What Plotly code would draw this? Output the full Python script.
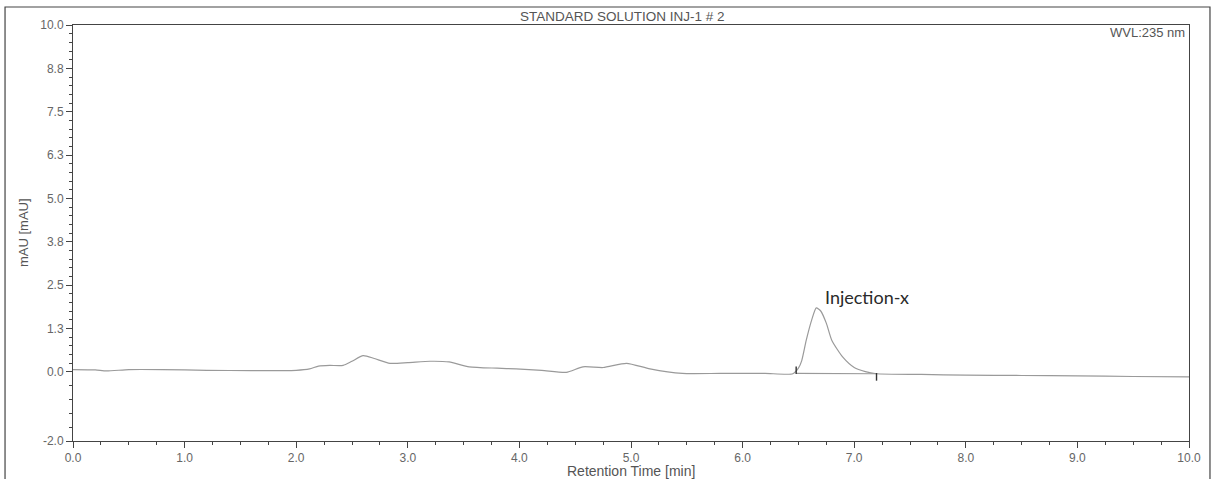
import plotly.graph_objects as go

# --- data ---
time_min = [0.0, 0.2, 0.3, 0.5, 0.8, 1.2, 1.6, 2.0, 2.12, 2.2, 2.3, 2.42, 2.5, 2.6, 2.7,
            2.84, 3.0, 3.2, 3.37, 3.55, 3.8, 3.97, 4.2, 4.42, 4.57, 4.75, 4.96, 5.17,
            5.46, 5.8, 6.2, 6.45, 6.5, 6.53, 6.57, 6.62, 6.66, 6.7, 6.75, 6.8, 6.9,
            7.0, 7.1, 7.2, 7.6, 8.0, 8.5, 9.0, 9.5, 10.0]
signal_mau = [0.06, 0.05, 0.02, 0.06, 0.06, 0.04, 0.03, 0.04, 0.08, 0.16, 0.18, 0.18,
              0.30, 0.46, 0.38, 0.24, 0.26, 0.30, 0.28, 0.14, 0.10, 0.08, 0.04, -0.02,
              0.14, 0.12, 0.24, 0.08, -0.05, -0.05, -0.05, -0.06, 0.10, 0.32, 0.90,
              1.50, 1.84, 1.75, 1.40, 0.90, 0.41, 0.12, 0.0, -0.06, -0.08, -0.10,
              -0.11, -0.12, -0.14, -0.15]

peak_name = "Injection-x"
peak_label_pos = (6.72, 2.14)
integration_start = (6.48, -0.05)
integration_end = (7.2, -0.06)

y_tick_vals = [-2.0, 0.0, 1.25, 2.5, 3.75, 5.0, 6.25, 7.5, 8.75, 10.0]
y_tick_text = ["-2.0", "0.0", "1.3", "2.5", "3.8", "5.0", "6.3", "7.5", "8.8", "10.0"]
x_tick_vals = [0, 1, 2, 3, 4, 5, 6, 7, 8, 9, 10]
x_tick_text = ["0.0", "1.0", "2.0", "3.0", "4.0", "5.0", "6.0", "7.0", "8.0", "9.0", "10.0"]

chart_title = "STANDARD SOLUTION INJ-1 # 2"
wavelength_label = "WVL:235 nm"
x_title = "Retention Time [min]"
y_title = "mAU [mAU]"

# minor tick positions (styling)
y_minor = [0.0 - 0.4 * k for k in range(1, 5)] + \
          [v + 0.25 * k for v in y_tick_vals[1:-1] for k in range(1, 5)]

fig = go.Figure()
fig.add_trace(go.Scatter(
    x=time_min, y=signal_mau, mode="lines",
    line=dict(color="#9a9a9a", width=1.2, shape="spline", smoothing=0.6),
    hoverinfo="skip", showlegend=False))

# integration baseline + delimiters
sx, sy = integration_start
ex, ey = integration_end
fig.add_trace(go.Scatter(
    x=[sx, ex], y=[sy, ey], mode="lines",
    line=dict(color="#9a9a9a", width=1.2), hoverinfo="skip", showlegend=False))
fig.add_trace(go.Scatter(
    x=[sx, sx, None, ex, ex],
    y=[sy - 0.02, sy + 0.2, None, ey + 0.02, ey - 0.2],
    mode="lines", line=dict(color="#333333", width=1.4),
    hoverinfo="skip", showlegend=False))

axis_font = dict(family="Liberation Sans, Arial", size=12, color="#666666")


def tfont(size):
    return dict(family="Liberation Sans, Arial", size=size, color="#555555")


fig.update_layout(
    width=1213, height=479,
    margin=dict(l=73, r=24, t=25, b=38),
    paper_bgcolor="white", plot_bgcolor="white",
    font=axis_font,
    xaxis=dict(
        range=[0, 10], tickmode="array", tickvals=x_tick_vals, ticktext=x_tick_text,
        showgrid=False, zeroline=False, showline=True, linecolor="#444444",
        linewidth=1, mirror=True, ticks="outside", ticklen=6, tickcolor="#444444",
        tickfont=axis_font,
        minor=dict(tickmode="linear", tick0=0, dtick=0.25, ticks="outside",
                   ticklen=3, tickcolor="#444444", showgrid=False)),
    yaxis=dict(
        range=[-2, 10], tickmode="array", tickvals=y_tick_vals, ticktext=y_tick_text,
        showgrid=False, zeroline=False, showline=True, linecolor="#444444",
        linewidth=1, mirror=True, ticks="outside", ticklen=6, tickcolor="#444444",
        tickfont=axis_font,
        minor=dict(tickmode="array", tickvals=y_minor, ticks="outside",
                   ticklen=3, tickcolor="#444444", showgrid=False)),
    shapes=[
        dict(type="rect", xref="paper", yref="paper", x0=-0.0609, x1=1.0188,
             y0=-0.12, y1=1.0433, line=dict(color="#444444", width=1.2)),
    ],
    annotations=[
        dict(text=chart_title, xref="paper", yref="paper", x=0.492, y=1.021,
             xanchor="center", yanchor="middle", showarrow=False, font=tfont(13.5)),
        dict(text=wavelength_label, xref="paper", yref="paper", x=0.927, y=0.983,
             xanchor="left", yanchor="middle", showarrow=False, font=tfont(13)),
        dict(text=x_title, xref="paper", yref="paper", x=0.5, y=-0.072,
             xanchor="center", yanchor="middle", showarrow=False, font=tfont(14)),
        dict(text=y_title, xref="paper", yref="paper", x=-0.0448, y=0.5,
             xanchor="center", yanchor="middle", textangle=-90, showarrow=False,
             font=tfont(13)),
        dict(text=peak_name, x=peak_label_pos[0], y=peak_label_pos[1], xref="x", yref="y",
             xanchor="left", yanchor="middle", showarrow=False,
             font=dict(family="Lato, Open Sans", size=18, color="#2a2a2a")),
    ],
)

fig.write_html("out.html", config={"displayModeBar": False},
               post_script="document.body.style.margin='0px';")
